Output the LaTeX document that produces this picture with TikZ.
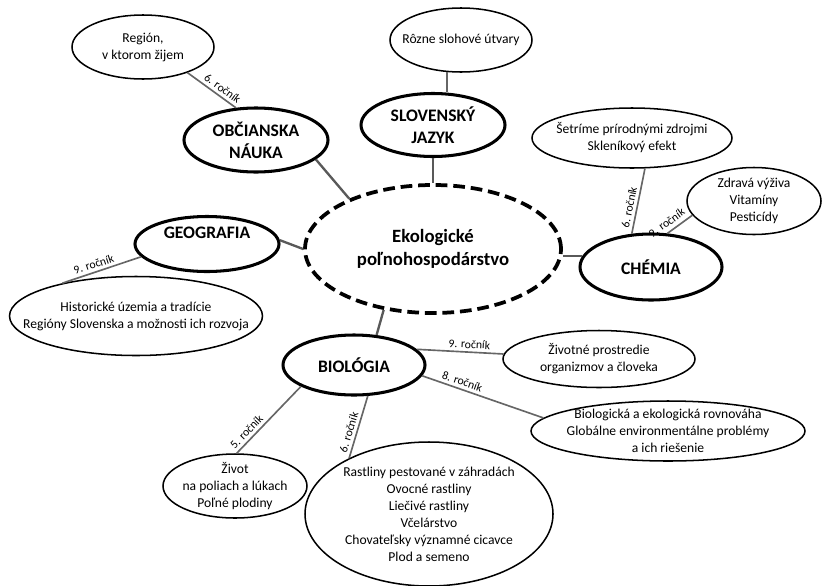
\documentclass[tikz,border=0pt]{standalone}
\usepackage{fontspec}
\setmainfont{Carlito}
\usetikzlibrary{shapes.geometric}

\newcommand{\temafont}{\fontsize{15}{18.5}\selectfont\bfseries}
\newcommand{\okruhfont}{\fontsize{11.6}{14.5}\selectfont}
\newcommand{\rocnikfont}{\fontsize{10}{11}\selectfont}

\begin{document}
\begin{tikzpicture}[x=0.03cm, y=-0.03cm,
    wh/.style 2 args={minimum width=#1*0.03cm, minimum height=#2*0.03cm},
    tema/.style={ellipse, draw, line width=2.6pt, align=center, inner xsep=-30pt, inner ysep=-15pt, font=\temafont},
    okruh/.style={ellipse, draw, line width=1.3pt, align=center, inner xsep=-30pt, inner ysep=-15pt, font=\okruhfont},
    spoke/.style={line width=2pt, black!65},
    twig/.style={line width=1.4pt, black!60},
    rocnik/.style={font=\rocnikfont, text=black, sloped, above, inner sep=2.5pt}]
    \useasboundingbox (0,0) rectangle (822,585);

    % Nodo centrale
    \node[tema, dash pattern=on 10pt off 5pt, line width=3.2pt, wh={256}{128},
          font=\fontsize{16}{19}\selectfont\bfseries] (eko) at (433,249) {Ekologické\\poľnohospodárstvo};

    % Predmety
    \node[tema, wh={144}{64}] (obc) at (256,140) {OBČIANSKA\\NÁUKA};
    \node[tema, wh={144}{63}] (slov) at (433,125) {SLOVENSKÝ\\JAZYK};
    \node[tema, wh={142}{66}] (chem) at (651,267) {CHÉMIA};
    \node[tema, wh={144}{55}, text depth=20pt] (geo) at (207,244) {GEOGRAFIA};
    \node[tema, wh={142}{60}] (bio) at (354,365) {BIOLÓGIA};

    % Okruhy
    \node[okruh, wh={142}{64}] (reg) at (143,47) {Región,\\v ktorom žijem};
    \node[okruh, wh={142}{64}] (rozne) at (461,40) {Rôzne slohové útvary};
    \node[okruh, wh={200}{60}] (setr) at (632,138) {Šetríme prírodnými zdrojmi\\Skleníkový efekt};
    \node[okruh, wh={134}{67}] (zdr) at (754,201) {Zdravá výživa\\Vitamíny\\Pesticídy};
    \node[okruh, wh={253}{79}] (hist) at (136,316) {Historické územia a tradície\\Regióny Slovenska a možnosti ich rozvoja};
    \node[okruh, wh={192}{57}] (zivprost) at (599,359) {Životné prostredie\\organizmov a človeka};
    \node[okruh, wh={274}{60}] (rovn) at (668,431) {Biologická a ekologická rovnováha\\Globálne environmentálne problémy\\a ich riešenie};
    \node[okruh, wh={144}{64}] (zivot) at (235,486) {Život\\na poliach a lúkach\\Poľné plodiny};
    \node[okruh, wh={248}{144}] (rast) at (429,514) {Rastliny pestované v záhradách\\Ovocné rastliny\\Liečivé rastliny\\Včelárstvo\\Chovateľsky významné cicavce\\Plod a semeno};

    % Spojenia
    \draw[spoke] (obc.-18) -- (eko.149);
    \draw[spoke] (slov.south) -- (eko.north);
    \draw[spoke] (geo.3) -- (eko.west);
    \draw[spoke] (chem.171) -- (chem.171 -| eko.east);
    \draw[spoke] (eko.231) -- (bio.53);

    \draw[twig] (reg.-30) -- (obc.122) node[rocnik, pos=0.63] {6. ročník};
    \draw[twig] (rozne.246) -- (rozne.246 |- slov.north);
    \draw[twig] (geo.191) -- (hist.156) node[rocnik, pos=0.57] {9. ročník};
    \draw[twig] (setr.-67) -- (chem.120) node[rocnik, pos=0.62] {6. ročník};
    \draw[twig] (zdr.193) -- (chem.64) node[rocnik, pos=0.82, inner sep=3.5pt] {9. ročník};
    \draw[twig] (bio.202) -- (zivot.87) node[rocnik, pos=0.76] {5. ročník};
    \draw[twig] (bio.-66) -- (rast.145) node[rocnik, pos=0.62] {6. ročník};
    \draw[twig] (bio.14) -- (zivprost.177) node[rocnik, pos=0.6] {9. ročník};
    \draw[twig] (bio.-9) -- (rovn.174) node[rocnik, pos=0.31] {8. ročník};
\end{tikzpicture}
\end{document}
